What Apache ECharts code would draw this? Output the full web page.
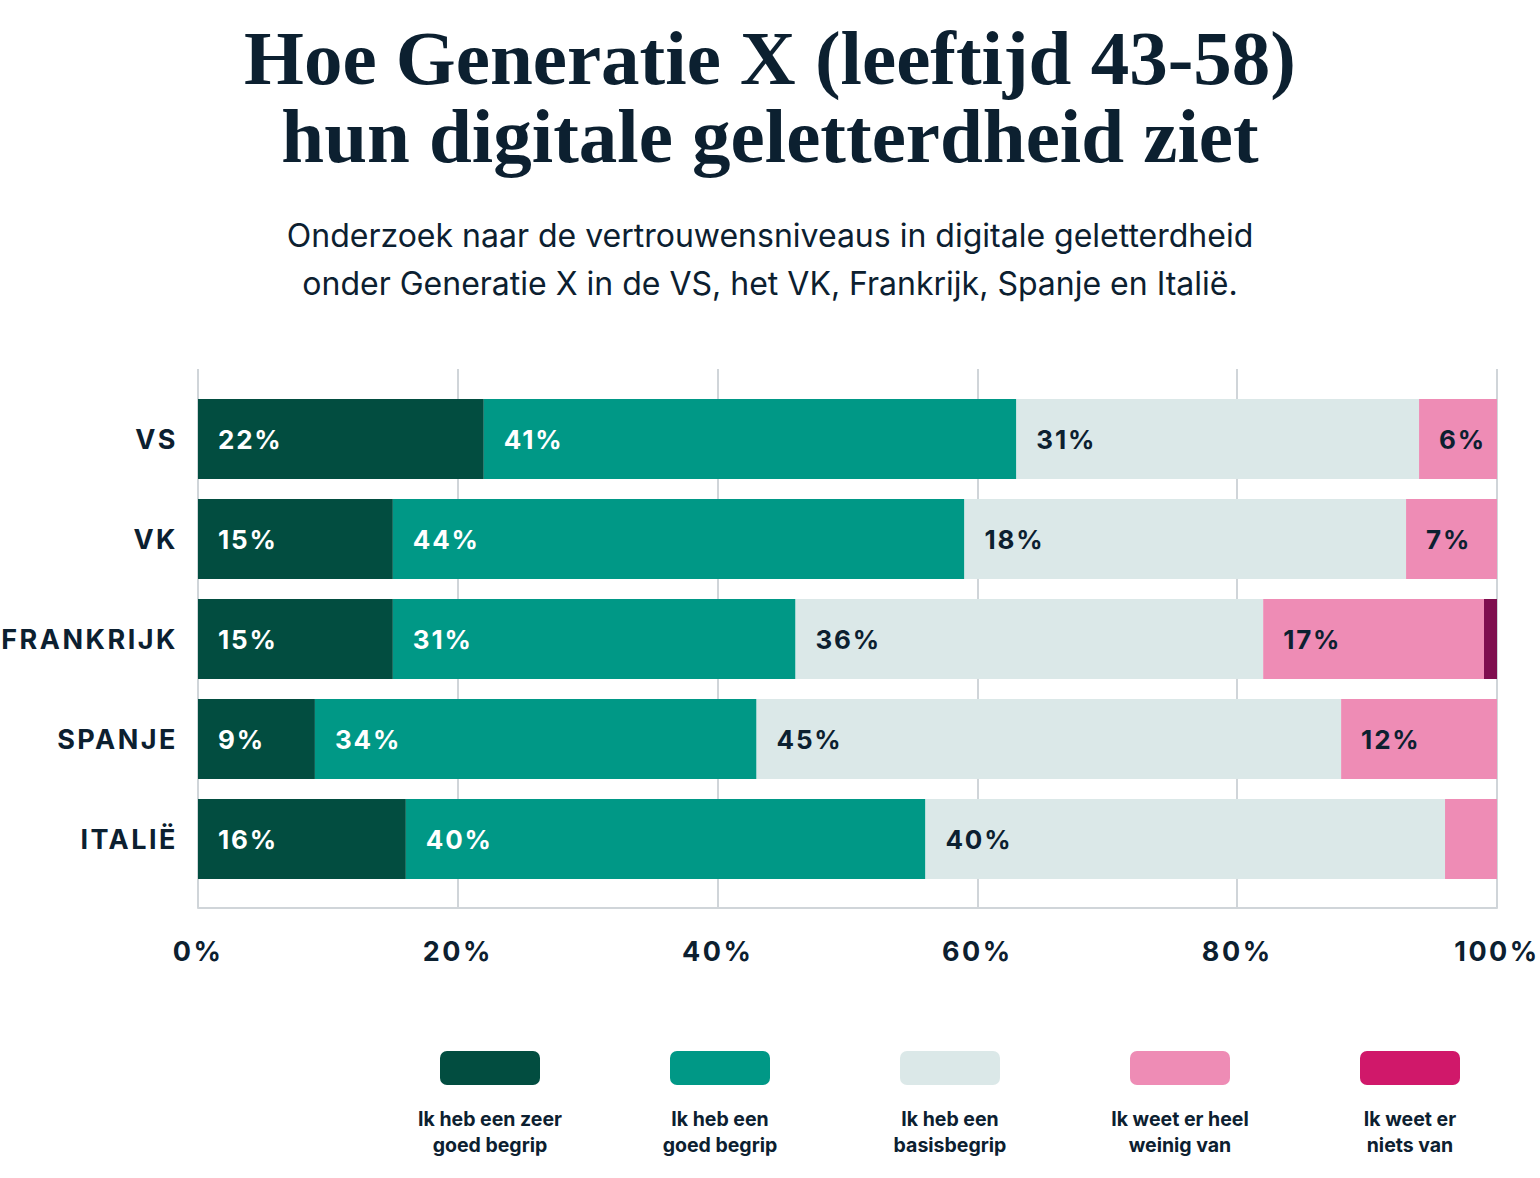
<!DOCTYPE html>
<html>
<head>
<meta charset="utf-8">
<script src="https://cdn.jsdelivr.net/npm/echarts@6/dist/echarts.min.js"></script>
<style>
  html, body { margin: 0; padding: 0; background: #ffffff; }
  #main { width: 1540px; height: 1178px; }
  /* letter-spaced labels like the original */
  #main text[style*="27px"] { letter-spacing: 2.5px; }
  #main text[style*="26px"] { letter-spacing: 1.8px; }
</style>
</head>
<body>
<div id="main"></div>
<script>
// landen
var countries = ['VS', 'VK', 'FRANKRIJK', 'SPANJE', 'ITALIË'];

// antwoordcategorieën
var levels = [
  'Ik heb een zeer\ngoed begrip',
  'Ik heb een\ngoed begrip',
  'Ik heb een\nbasisbegrip',
  'Ik weet er heel\nweinig van',
  'Ik weet er\nniets van'
];

// breedte van de segmenten (%)
var zeerGoed   = [22, 15, 15, 9, 16];
var goed       = [41, 44, 31, 34, 40];
var basis      = [31, 34, 36, 45, 40];
var heelWeinig = [6, 7, 17, 12, 4];
var niets      = [0, 0, 1, 0, 0];

// labels zoals ze in de grafiek staan
var zeerGoedLabels   = ['22%', '15%', '15%', '9%', '16%'];
var goedLabels       = ['41%', '44%', '31%', '34%', '40%'];
var basisLabels      = ['31%', '18%', '36%', '45%', '40%'];
var heelWeinigLabels = ['6%', '7%', '17%', '12%', ''];
var nietsLabels      = ['', '', '', '', ''];

var xTicks = [0, 20, 40, 60, 80, 100];

var barColors    = ['#024d40', '#009886', '#dbe8e8', '#ee8cb5', '#7f0e4f'];
var legendColors = ['#024d40', '#009886', '#dbe8e8', '#ee8cb5', '#d0186a'];
var labelColors  = ['#ffffff', '#ffffff', '#0c2030', '#0c2030', '#0c2030'];

var values = [zeerGoed, goed, basis, heelWeinig, niets];
var labels = [zeerGoedLabels, goedLabels, basisLabels, heelWeinigLabels, nietsLabels];

var navy = '#0c2030';
var gridColor = '#d0d5d9';

var series = levels.map(function (name, i) {
  return {
    name: name,
    type: 'bar',
    stack: 'total',
    xAxisIndex: 0,
    yAxisIndex: 0,
    barWidth: 80,
    data: values[i],
    itemStyle: { color: barColors[i] },
    label: {
      show: true,
      position: 'insideLeft',
      distance: 20,
      color: labelColors[i],
      fontFamily: 'Inter',
      fontWeight: 'bold',
      fontSize: 26,
      formatter: function (p) { return labels[i][p.dataIndex]; }
    },
    emphasis: { disabled: true }
  };
});

// legenda: blokje met tekst eronder
var legendGraphics = [];
levels.forEach(function (name, i) {
  var cx = 490 + i * 230;
  legendGraphics.push({
    type: 'rect',
    shape: { x: cx - 50, y: 1051, width: 100, height: 34, r: 7 },
    style: { fill: legendColors[i] }
  });
  legendGraphics.push({
    type: 'text',
    style: {
      text: name,
      x: cx,
      y: 1106,
      textAlign: 'center',
      textVerticalAlign: 'top',
      font: 'bold 19.5px Inter',
      lineHeight: 26,
      fill: navy
    }
  });
});

var myChart = echarts.init(document.getElementById('main'), null, { renderer: 'svg' });
myChart.setOption({
  backgroundColor: '#ffffff',
  animation: false,
  title: [{
    text: 'Hoe Generatie X (leeftijd 43-58)\nhun digitale geletterdheid ziet',
    left: 'center',
    top: 14,
    textStyle: {
      fontFamily: 'Liberation Serif',
      fontWeight: 'bold',
      fontSize: 77,
      lineHeight: 78,
      color: navy
    }
  }, {
    text: 'Onderzoek naar de vertrouwensniveaus in digitale geletterdheid\nonder Generatie X in de VS, het VK, Frankrijk, Spanje en Italië.',
    left: 'center',
    top: 206,
    textStyle: {
      fontFamily: 'Inter',
      fontWeight: 'normal',
      fontSize: 32,
      lineHeight: 48,
      color: navy
    }
  }],
  grid: [
    { left: 198, right: 43, top: 389, height: 500 },
    { left: 198, right: 43, top: 369, height: 539 }
  ],
  xAxis: [{
    gridIndex: 0,
    type: 'value',
    min: 0,
    max: 100,
    show: false
  }, {
    gridIndex: 1,
    type: 'value',
    min: 0,
    max: 100,
    interval: 20,
    axisLine: { show: true, lineStyle: { color: gridColor, width: 2 } },
    axisTick: { show: false },
    splitLine: { show: true, lineStyle: { color: gridColor, width: 2 } },
    axisLabel: {
      margin: 30,
      color: navy,
      fontFamily: 'Inter',
      fontWeight: 'bold',
      fontSize: 27,
      customValues: xTicks,
      formatter: '{value}%'
    }
  }],
  yAxis: [{
    gridIndex: 0,
    type: 'category',
    inverse: true,
    data: countries,
    axisLine: { show: false },
    axisTick: { show: false },
    axisLabel: {
      margin: 20,
      color: navy,
      fontFamily: 'Inter',
      fontWeight: 'bold',
      fontSize: 27
    }
  }, {
    gridIndex: 1,
    type: 'category',
    data: countries,
    show: false
  }],
  graphic: legendGraphics,
  series: series
});
</script>
</body>
</html>
